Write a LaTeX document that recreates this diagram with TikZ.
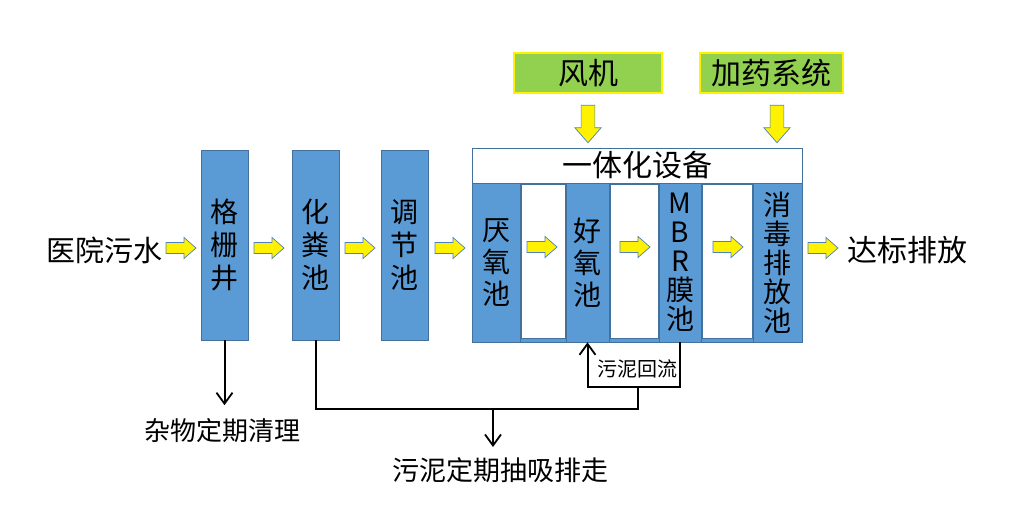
\documentclass[tikz,border=0pt]{standalone}
\usepackage{fontspec}
\setmainfont{Noto Sans CJK SC}
\usepackage{xcolor}
\usetikzlibrary{arrows.meta}

\definecolor{tankblue}{HTML}{5B9BD5}
\definecolor{tankline}{HTML}{41719C}
\definecolor{feedgreen}{HTML}{92D050}
\definecolor{flowline}{HTML}{4F81BD}

\tikzset{
  tank/.style={draw=tankline, fill=tankblue, inner sep=0pt, align=center},
  feeder/.style={draw=yellow, fill=feedgreen, line width=1.2pt, inner sep=0pt,
                 minimum height=40pt, font=\fontsize{30}{32}\selectfont},
  label/.style={inner sep=0pt},
  sludgeline/.style={draw=black, line width=2pt},
  pics/flow/.style={code={
    \filldraw[draw=flowline, fill=yellow, line width=0.7pt]
      (-15,-5.5) -- (3,-5.5) -- (3,-10.5) -- (15,0) -- (3,10.5)
      -- (3,5.5) -- (-15,5.5) -- cycle;}}
}

\begin{document}
\begin{tikzpicture}[x=1pt,y=-1pt]
\useasboundingbox (0,0) rectangle (1027,519);
\begin{scope}[>={Straight Barb[length=11pt,width=16pt,line width=1.8pt]}]

    % inflow and first three tanks
    \node[label,font=\fontsize{29}{31}\selectfont] (inflow) at (104,250) {医院污水};
    \pic at (181,248) {flow};
    \node[tank,minimum width=47,minimum height=190,font=\fontsize{28}{33}\selectfont]
         (grid) at (224.5,245) {格\\栅\\井};
    \pic at (269,248) {flow};
    \node[tank,minimum width=47,minimum height=190,font=\fontsize{28}{33}\selectfont]
         (septic) at (315.5,245) {化\\粪\\池};
    \pic at (360,248) {flow};
    \node[tank,minimum width=47,minimum height=190,font=\fontsize{28}{33}\selectfont]
         (adjust) at (404.5,245) {调\\节\\池};
    \pic at (450,248) {flow};

    % integrated unit
    \node[tank,line width=0.8pt,minimum width=330,minimum height=194] (unit) at (637,245) {};
    \node[draw=tankline,fill=white,line width=0.8pt,minimum width=330,minimum height=35,
          inner sep=0pt,anchor=north,font=\fontsize{30}{32}\selectfont]
         (unithead) at (unit.north) {一体化设备};
    \filldraw[fill=white,draw=tankline,line width=0.6pt] (521,184) rectangle (565,338);
    \filldraw[fill=white,draw=tankline,line width=0.6pt] (610,184) rectangle (658,338);
    \filldraw[fill=white,draw=tankline,line width=0.6pt] (702,184) rectangle (752,338);

    \node[tank,line width=0.6pt,minimum width=48,minimum height=159,font=\fontsize{28}{32}\selectfont]
         (anaerobic) at (496,262.5) {厌\\氧\\池};
    \node[tank,line width=0.6pt,minimum width=43,minimum height=159,font=\fontsize{28}{32}\selectfont]
         (aerobic) at (587.5,262.5) {好\\氧\\池};
    \node[tank,line width=0.6pt,minimum width=42,minimum height=159,font=\fontsize{28}{29}\selectfont]
         (mbr) at (680,262.5) {M\\B\\R\\膜\\池};
    \node[tank,line width=0.6pt,minimum width=49,minimum height=159,font=\fontsize{28}{29}\selectfont]
         (disinfect) at (777.5,262.5) {消\\毒\\排\\放\\池};
    \pic at (542,247) {flow};
    \pic at (635,247) {flow};
    \pic at (728,247) {flow};

    % outflow
    \pic at (823,248) {flow};
    \node[label,font=\fontsize{30}{32}\selectfont] (outflow) at (907,250) {达标排放};

    % feeders on top
    \node[feeder,minimum width=148] (blower) at (588,73) {风机};
    \node[feeder,minimum width=143] (dosing) at (771.5,73) {加药系统};
    \pic[rotate=-90,scale=1.25] at (588,124) {flow};
    \pic[rotate=-90,scale=1.25] at (777,124) {flow};

    % debris
    \node[label,font=\fontsize{26}{28}\selectfont] (debris) at (222,431) {杂物定期清理};
    \draw[sludgeline,->] (grid.south) -- ++(0,65);

    % sludge lines
    \coordinate (merge) at (638,409);
    \coordinate (loopmid) at (638,387);
    \coordinate (drop) at (493,409);
    \node[label,font=\fontsize{27}{29}\selectfont] (sludge) at (500,470) {污泥定期抽吸排走};
    \draw[sludgeline] (septic.south) |- (merge) -- (loopmid);
    \draw[sludgeline,->] (mbr.south) |- (loopmid) -| (aerobic.south);
    \node[label,font=\fontsize{20}{22}\selectfont] (return) at (637,369) {污泥回流};
    \draw[sludgeline,->] (drop) -- ++(0,38);
\end{scope}
\end{tikzpicture}
\end{document}
